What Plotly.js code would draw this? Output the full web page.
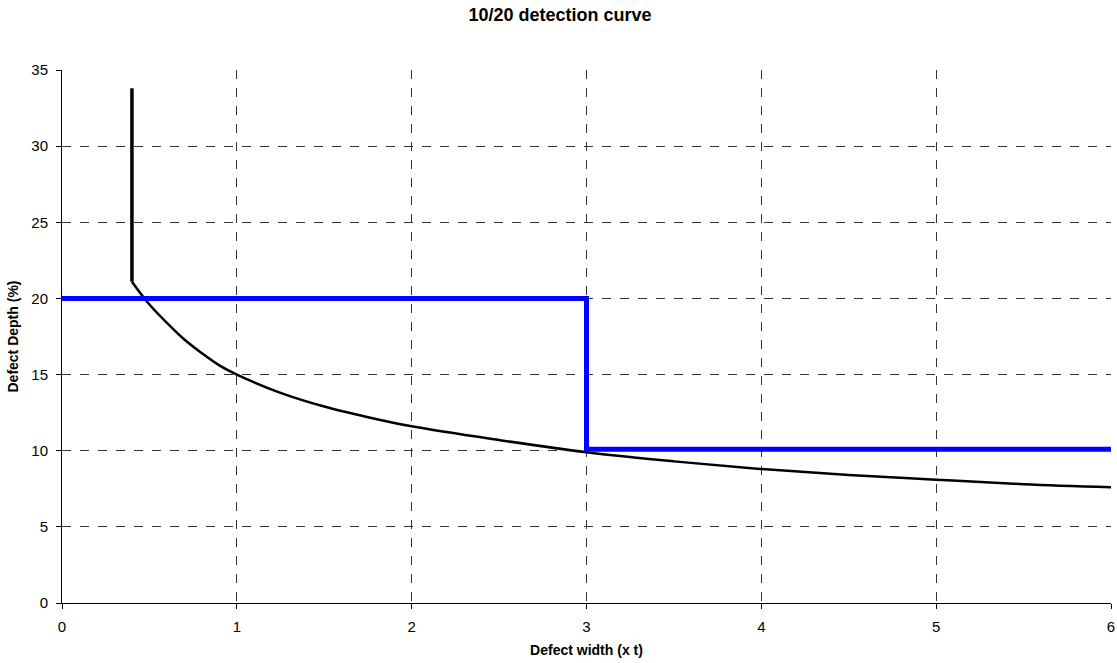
<!DOCTYPE html>
<html>
<head>
<meta charset="utf-8">
<script src="https://cdn.plot.ly/plotly-3.0.1.min.js"></script>
<style>html,body{margin:0;padding:0;background:#fff;}#chart{width:1117px;height:663px;}</style>
</head>
<body>
<div id="chart"></div>
<script>
// Black detection curve (vertical part + curve)
const stemX = [0.4, 0.4];
const stemY = [33.8, 21.1];
const curveX = [0.4, 0.5, 0.6, 0.7, 0.8, 0.9, 1.0, 1.25, 1.5, 1.75, 2.0, 2.5, 3.0, 3.5, 4.0, 4.5, 5.0, 5.5, 6.0];
const curveY = [21.1, 19.6, 18.4, 17.3, 16.4, 15.6, 15.0, 13.8, 12.9, 12.2, 11.6, 10.7, 9.9, 9.3, 8.8, 8.4, 8.1, 7.8, 7.6];
// Blue threshold step
const stepX = [0, 3, 3, 6];
const stepY = [20, 20, 10.1, 10.1];

const xTicks = [0, 1, 2, 3, 4, 5, 6];
const yTicks = [0, 5, 10, 15, 20, 25, 30, 35];

const data = [
  {x: stemX, y: stemY, mode: 'lines', line: {color: '#000', width: 3.5}, showlegend: false, hoverinfo: 'skip'},
  {x: curveX, y: curveY, mode: 'lines', line: {color: '#000', width: 2.5, shape: 'spline', smoothing: 1}, showlegend: false},
  {x: stepX, y: stepY, mode: 'lines', line: {color: '#0000FF', width: 5}, showlegend: false}
];

const layout = {
  width: 1117, height: 663,
  margin: {l: 62, r: 6, t: 70, b: 60},
  paper_bgcolor: '#fff', plot_bgcolor: '#fff',
  font: {family: 'Liberation Sans, Arial, sans-serif', size: 15, color: '#000'},
  title: {text: '<b>10/20 detection curve</b>', x: 0.5013, xanchor: 'center', y: 1 - 15 / 663, yanchor: 'middle', font: {size: 18}},
  xaxis: {
    range: [0, 6], tickvals: xTicks, ticktext: xTicks.map(String),
    showline: true, linecolor: '#000', linewidth: 1,
    ticks: 'outside', ticklen: 5, tickcolor: '#000', ticklabelstandoff: 5,
    showgrid: true, gridcolor: '#333', gridwidth: 1, griddash: 'dash',
    zeroline: false,
    title: {text: '<b>Defect width (x t)</b>', font: {size: 14}, standoff: 11}
  },
  yaxis: {
    range: [0, 35], tickvals: yTicks, ticktext: yTicks.map(String),
    showline: true, linecolor: '#000', linewidth: 1,
    ticks: 'outside', ticklen: 5, tickcolor: '#000', ticklabelstandoff: 5,
    showgrid: true, gridcolor: '#333', gridwidth: 1, griddash: 'dash',
    zeroline: false,
    title: {text: '<b>Defect Depth (%)</b>', font: {size: 14}, standoff: 9}
  }
};

Plotly.newPlot('chart', data, layout, {staticPlot: true});
</script>
</body>
</html>
